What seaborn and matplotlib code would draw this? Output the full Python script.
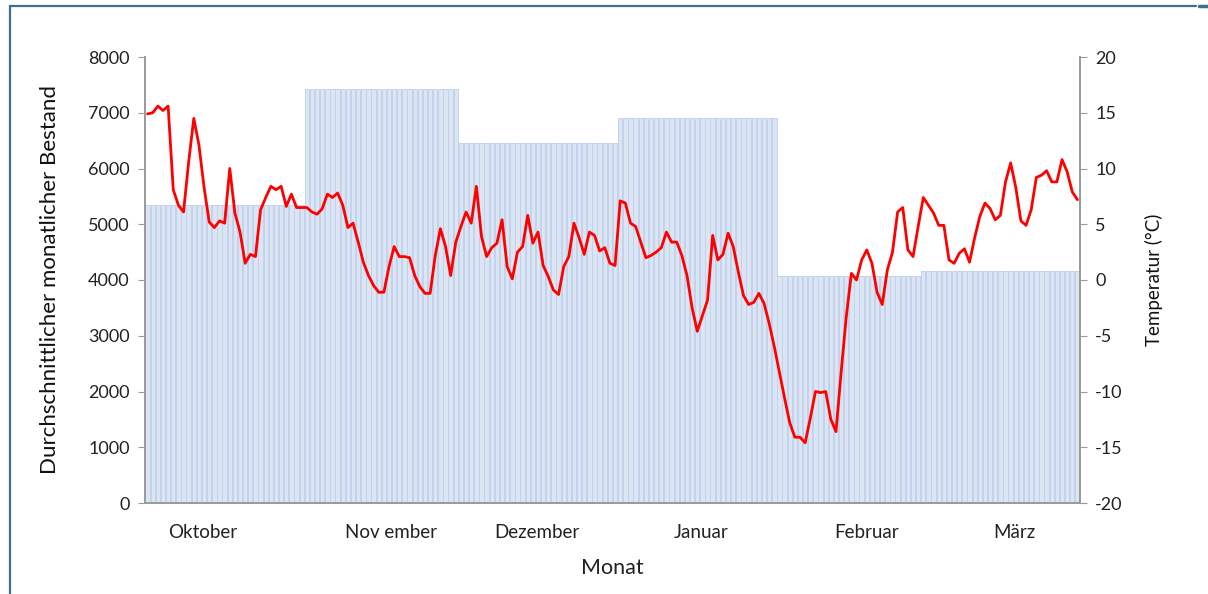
import numpy as np
import pandas as pd
import seaborn as sns
import matplotlib.pyplot as plt
from matplotlib.lines import Line2D

# Monthly data
months = ['Oktober', 'Nov ember', 'Dezember', 'Januar', 'Februar', 'März']
month_days = [31, 30, 31, 31, 28, 31]
month_stock = [5350, 7430, 6450, 6900, 4080, 4170]

# Daily temperature (°C)
oct_temp = [14.9, 15.0, 15.6, 15.2, 15.6, 8.1, 6.7, 6.1, 10.6, 14.5, 12.1, 8.3, 5.2, 4.7, 5.3, 5.1,
            10.0, 6.0, 4.3, 1.5, 2.3, 2.1, 6.3, 7.4, 8.4, 8.1, 8.4, 6.6, 7.7, 6.5, 6.5]
nov_temp = [6.5, 6.1, 5.9, 6.4, 7.7, 7.4, 7.8, 6.7, 4.7, 5.1, 3.4, 1.6, 0.4, -0.5, -1.1, -1.1,
            1.2, 3.0, 2.1, 2.1, 2.0, 0.4, -0.6, -1.2, -1.2, 2.2, 4.6, 3.0, 0.4, 3.4]
dec_temp = [4.8, 6.1, 5.1, 8.4, 3.9, 2.1, 2.9, 3.3, 5.4, 1.2, 0.1, 2.5, 3.0, 5.8, 3.3, 4.3,
            1.3, 0.3, -0.9, -1.3, 1.2, 2.1, 5.1, 3.8, 2.3, 4.3, 4.0, 2.6, 2.9, 1.5, 1.3]
jan_temp = [7.1, 6.9, 5.1, 4.8, 3.4, 2.0, 2.2, 2.5, 2.9, 4.3, 3.4, 3.4, 2.2, 0.4, -2.5, -4.6,
            -3.2, -1.8, 4.0, 1.8, 2.3, 4.2, 3.0, 0.7, -1.4, -2.2, -2.0, -1.2, -2.1, -3.9, -6.0]
feb_temp = [-8.3, -10.6, -12.8, -14.1, -14.1, -14.6, -12.4, -10.0, -10.1, -10.0, -12.5, -13.6,
            -8.3, -3.3, 0.6, 0.0, 1.8, 2.7, 1.5, -1.1, -2.2, 0.9, 2.5, 6.1, 6.5, 2.7, 2.1, 4.8]
mar_temp = [7.4, 6.7, 6.0, 4.9, 4.9, 1.8, 1.5, 2.4, 2.8, 1.6, 3.8, 5.7, 6.9, 6.4, 5.4, 5.8,
            8.8, 10.5, 8.3, 5.3, 4.9, 6.3, 9.2, 9.4, 9.8, 8.8, 8.8, 10.8, 9.7, 7.9, 7.2]

temps = oct_temp + nov_temp + dec_temp + jan_temp + feb_temp + mar_temp
stock = np.repeat(month_stock, month_days)
days = np.arange(len(temps))
df = pd.DataFrame({'Tag': days, 'Bestand': stock, 'Temperatur': temps})

sns.set_style('white')
plt.rcParams['font.family'] = ['Lato', 'DejaVu Sans']
plt.rcParams['axes.unicode_minus'] = False

fig = plt.figure(figsize=(12.08, 5.94), dpi=100)
ax = fig.add_axes([145 / 1208, 1 - 503 / 594, (1080 - 145) / 1208, (503 - 57) / 594])

sns.barplot(data=df, x='Tag', y='Bestand', ax=ax, color='#dce5f4', saturation=1,
            width=0.85, edgecolor='#c3d3ec', linewidth=0.7)
ax.set_ylim(0, 8000)
ax.set_xlim(-0.5, len(temps) - 0.5)

ax2 = ax.twinx()
sns.lineplot(data=df, x='Tag', y='Temperatur', ax=ax2, color='#ff0000', linewidth=2.0)
ax2.set_ylim(-20, 20)
ax2.set_xlim(-0.5, len(temps) - 0.5)

# month boundaries as tick marks, labels in between
bounds = np.concatenate([[0], np.cumsum(month_days)]) - 0.5
label_pos = [10.8, 47.4, 75.8, 107.7, 139.9, 168.7]
ax.set_xticks(bounds)
ax.set_xticklabels([])
ax.set_xticks(label_pos, minor=True)
ax.set_xticklabels(months, minor=True)
ax.tick_params(axis='x', which='minor', length=0, pad=15, labelsize=13.5, colors='#222222')
ax.tick_params(axis='x', which='major', length=5, color='#999999', direction='out')

ax.set_yticks(range(0, 8001, 1000))
ax.tick_params(axis='y', length=5, color='#999999', direction='out', labelsize=13,
               labelcolor='#222222', left=True, pad=6)
ax2.set_yticks(range(-20, 21, 5))
ax2.tick_params(axis='y', length=5, color='#999999', direction='out', labelsize=13,
                labelcolor='#222222', right=True, pad=6)

for a in (ax, ax2):
    for s in a.spines.values():
        s.set_color('#999999')
        s.set_linewidth(1.2)
    a.spines['top'].set_visible(False)

ax.set_xlabel('Monat', fontsize=15.5, labelpad=12, color='#222222')
ax.set_ylabel('Durchschnittlicher monatlicher Bestand', fontsize=16, labelpad=20, color='#111111')
ax2.set_ylabel('Temperatur (°C)', fontsize=13.5, labelpad=16, color='#111111')

# page frame from the document screenshot
fig.add_artist(Line2D([10 / 1208, 1196 / 1208], [1 - 6 / 594] * 2, color='#3f6d8a', lw=1.6,
                      transform=fig.transFigure))
fig.add_artist(Line2D([1199 / 1208, 1208 / 1208], [1 - 6 / 594] * 2, color='#3f6d8a', lw=2.5,
                      transform=fig.transFigure))
fig.add_artist(Line2D([10 / 1208] * 2, [0, 1 - 6 / 594], color='#3f6d8a', lw=1.6,
                      transform=fig.transFigure))

fig.savefig('out.png', dpi=100)
